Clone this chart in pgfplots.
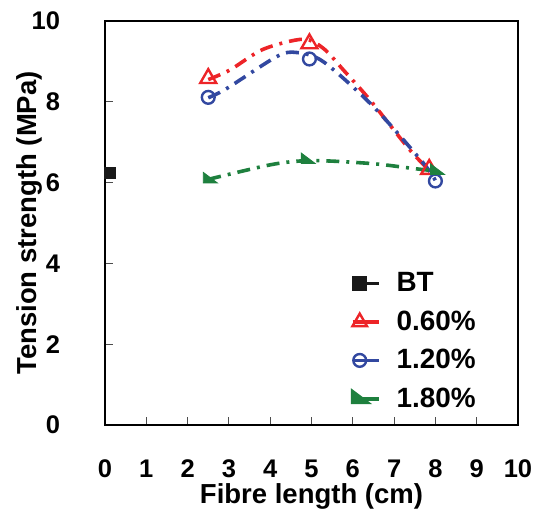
\documentclass[border=0pt]{standalone}
\usepackage{fontspec}
\setmainfont{Liberation Sans}
\usepackage{pgfplots}
\pgfplotsset{compat=1.18}
\definecolor{cred}{RGB}{237,36,40}
\definecolor{cblue}{RGB}{50,72,160}
\definecolor{cgreen}{RGB}{30,128,62}
\pgfdeclareplotmark{flag}{%
 \pgfpathmoveto{\pgfpoint{-\pgfplotmarksize}{\pgfplotmarksize}}%
 \pgfpathlineto{\pgfpoint{-\pgfplotmarksize}{-0.5\pgfplotmarksize}}%
 \pgfpathlineto{\pgfpoint{\pgfplotmarksize}{-0.5\pgfplotmarksize}}%
 \pgfpathclose\pgfusepathqfillstroke}
\begin{document}
\begin{tikzpicture}
\begin{axis}[
  scale only axis, width=206.5bp, height=202bp,
  xmin=0, xmax=10, ymin=0, ymax=10,
  xtick={0,1,...,10}, ytick={0,2,...,10},
  tick align=inside, major tick length=4bp,
  xtick pos=bottom, ytick pos=left,
  axis line style={line width=0.9bp},
  tick style={line width=0.6bp, black!70},
  /pgf/number format/assume math mode=true,
  tick label style={font=\bfseries\fontsize{12.8}{14}\selectfont},
  xticklabel style={yshift=-14bp},
  yticklabel style={xshift=-19bp},
  xlabel={Fibre length (cm)},
  ylabel={Tension strength (MPa)},
  label style={font=\bfseries\fontsize{13.8}{15}\selectfont},
  xlabel style={at={(axis description cs:0.5,-0.178)}, anchor=center},
  ylabel style={at={(axis description cs:-0.182,0.5)}, anchor=center},
  clip=false,
  legend style={at={(axis cs:5.8,3.98)}, anchor=north west, draw=none, fill=none,
    font=\bfseries\fontsize{14}{16}\selectfont, row sep=4bp},
  legend cell align=left,
  legend image code/.code={\draw[#1] (0bp,0bp) -- (13bp,0bp); \draw[#1] plot[only marks] coordinates {(3.5bp,0bp)}; \path (19bp,0bp);},
]
\path (rel axis cs:0,0) ++(-52.5bp,-47.5bp) rectangle ++(270.5bp,260bp);
% fitted curves (read from picture)
\addplot[cred, line width=1.8bp, smooth, dash pattern=on 6.5bp off 3.5bp on 1.5bp off 3.5bp, forget plot]
 coordinates {(2.5,8.55) (3.03,8.79) (3.83,9.30) (4.8,9.55) (5.29,9.32) (5.77,8.79) (6.42,8.04) (7.38,6.81) (7.85,6.31)};
\addplot[cblue, line width=1.8bp, smooth, dash pattern=on 6.5bp off 3.5bp on 1.5bp off 3.5bp, forget plot]
 coordinates {(2.5,8.1) (2.95,8.33) (4.16,9.12) (4.64,9.22) (5.29,8.99) (6.5,7.88) (7.71,6.48) (8.0,6.05)};
\addplot[cgreen, line width=1.8bp, smooth, dash pattern=on 6.5bp off 3.5bp on 1.5bp off 3.5bp, forget plot]
 coordinates {(2.5,6.08) (4.0,6.44) (4.81,6.54) (5.53,6.53) (6.58,6.46) (7.46,6.35) (8.0,6.29)};
% markers
\addplot[only marks, mark=square*, mark size=2.75bp, black!90, forget plot] coordinates {(0.12,6.23)};
\addplot[only marks, mark=triangle, mark size=4.6bp, cred, mark options={line width=1.2bp}, forget plot]
 coordinates {(2.5,8.58) (4.95,9.44) (7.85,6.33)};
\addplot[only marks, mark=o, mark size=3.2bp, cblue, mark options={line width=1.2bp}, forget plot]
 coordinates {(2.5,8.11) (4.95,9.06) (8.0,6.04)};
\addplot[only marks, mark=flag, mark size=3.5bp, cgreen, forget plot]
 coordinates {(2.55,6.08) (4.92,6.56) (8.05,6.29)};
% legend
\addlegendimage{black!90, solid, line width=1.8bp, mark=square*, mark size=2.75bp}
\addlegendentry{BT}
\addlegendimage{cred, solid, line width=1.8bp, mark=triangle, mark size=4.2bp, mark options={line width=1.2bp}}
\addlegendentry{0.60\%}
\addlegendimage{cblue, solid, line width=1.8bp, mark=o, mark size=3.2bp, mark options={line width=1.2bp}}
\addlegendentry{1.20\%}
\addlegendimage{cgreen, solid, line width=1.8bp, mark=flag, mark size=3.5bp}
\addlegendentry{1.80\%}
\end{axis}
\end{tikzpicture}
\end{document}
